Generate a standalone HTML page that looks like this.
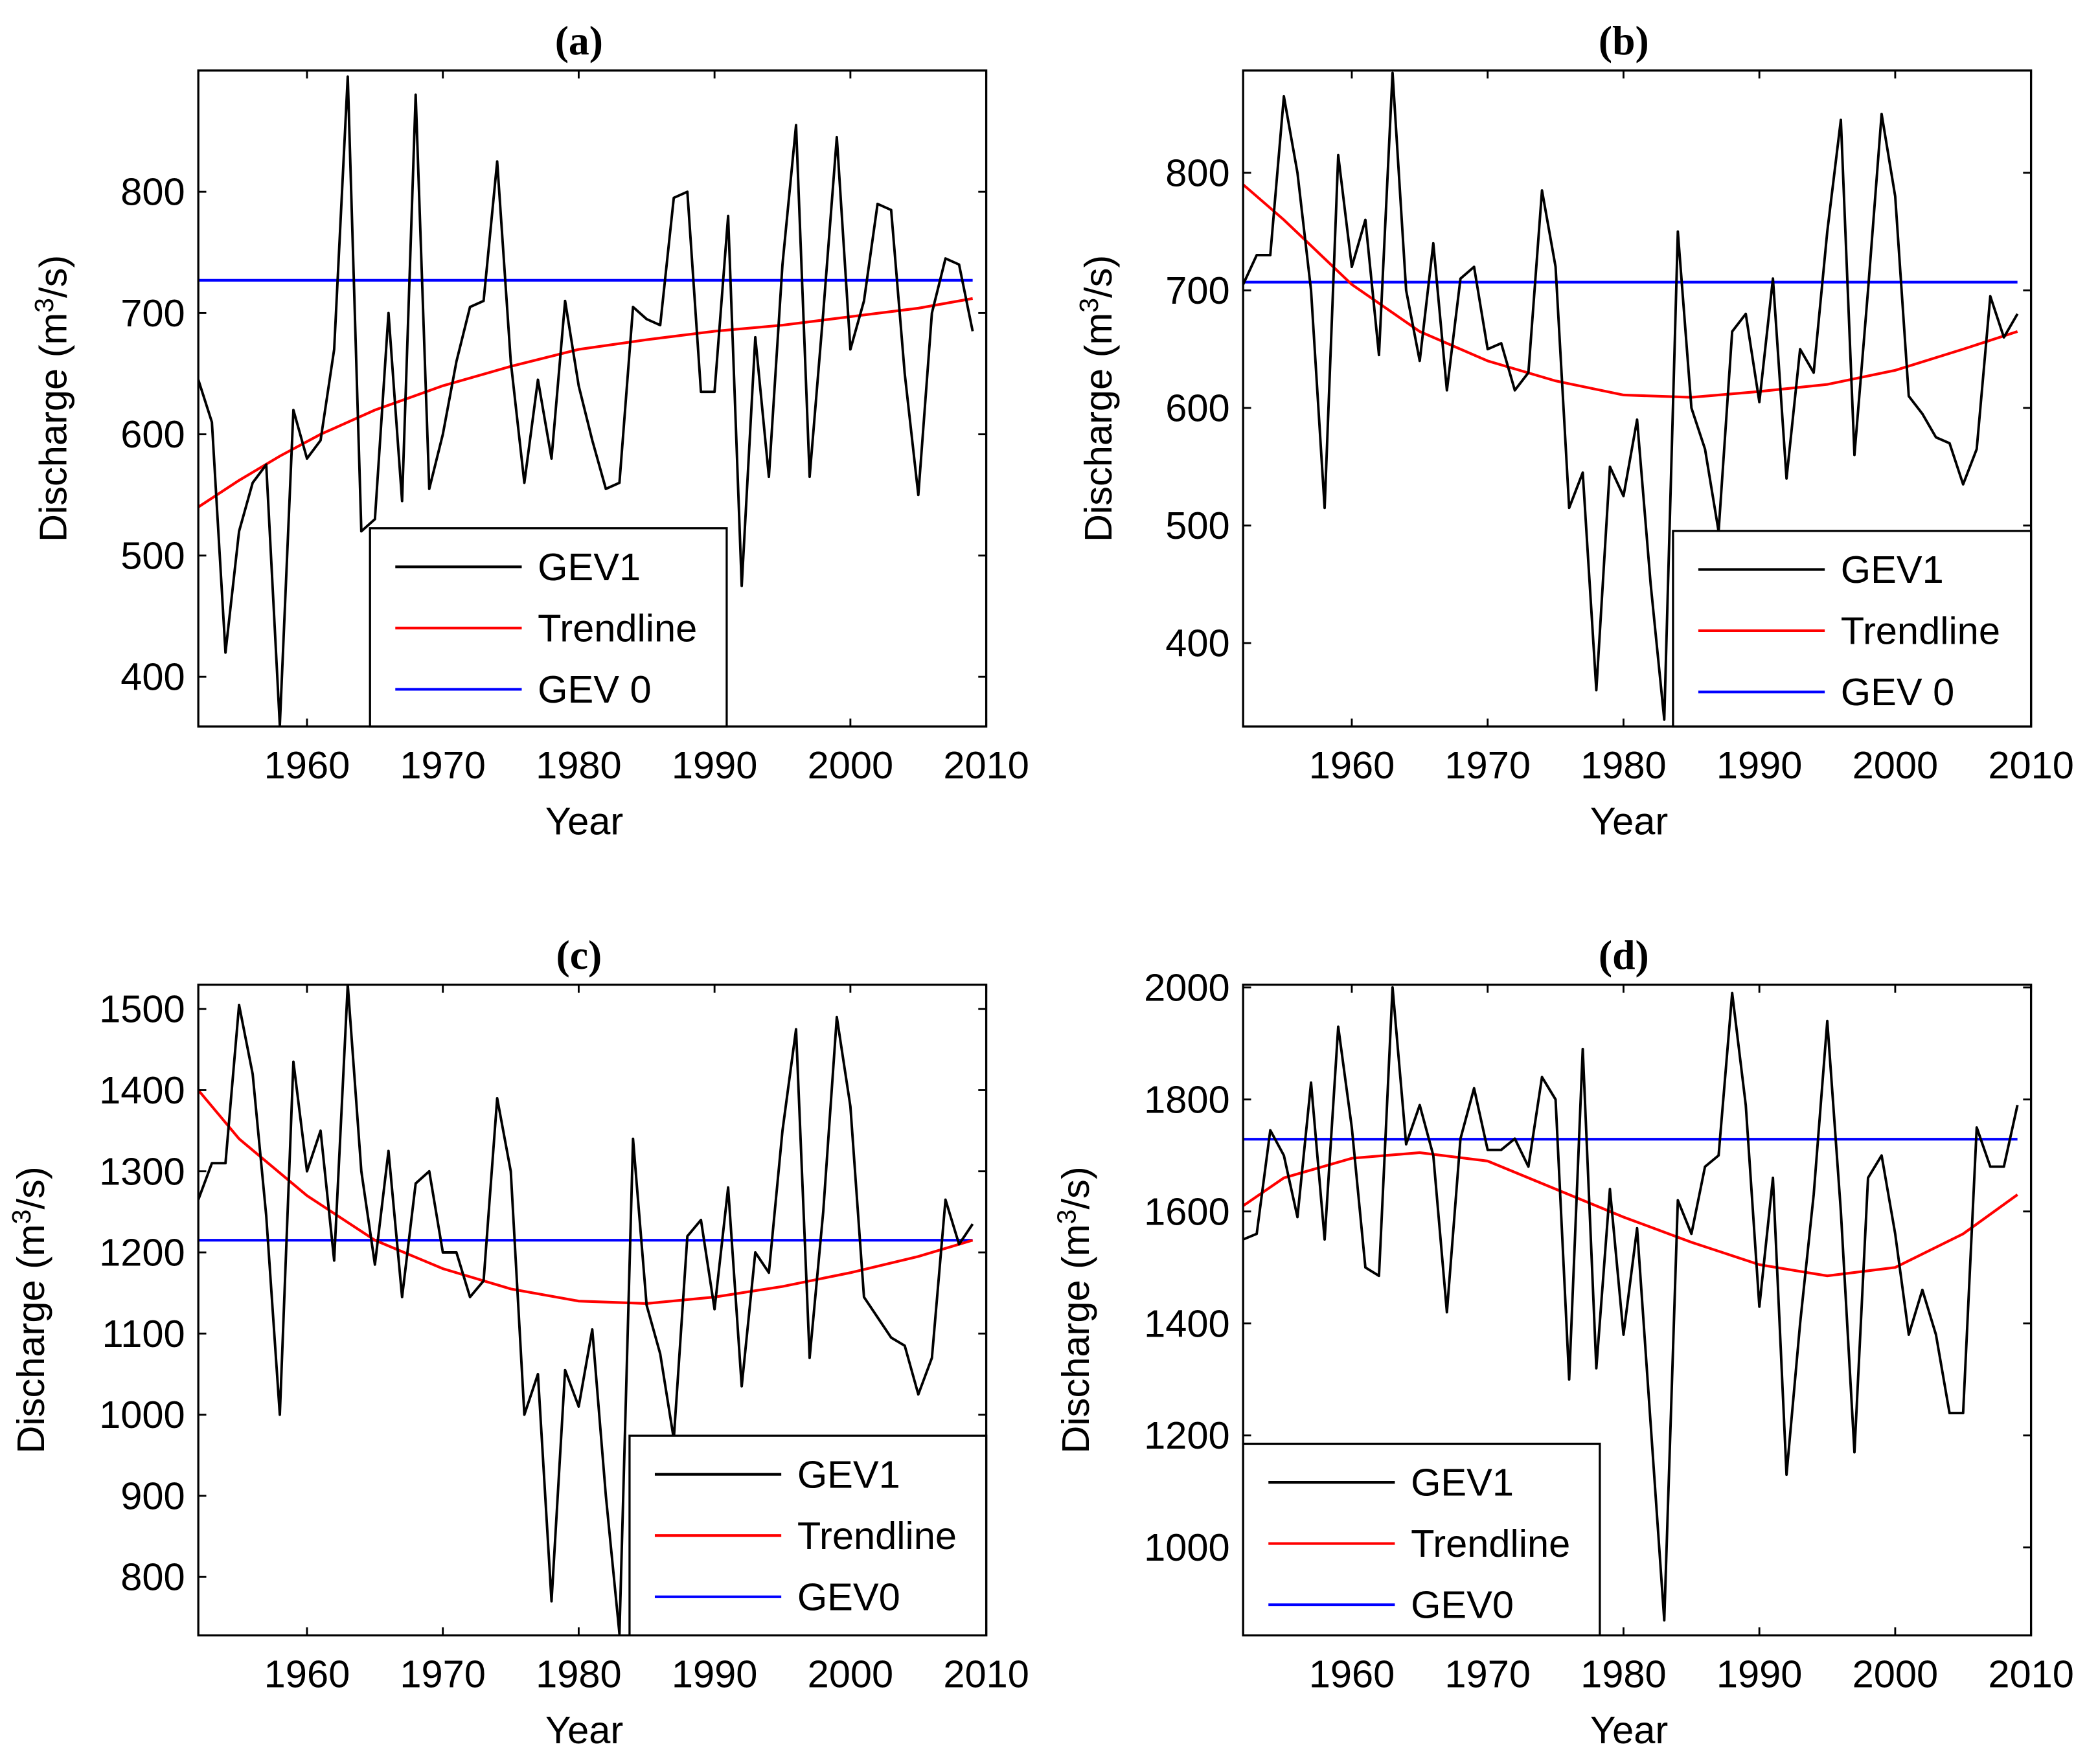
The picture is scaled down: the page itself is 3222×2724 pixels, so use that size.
<!DOCTYPE html>
<html><head><meta charset="utf-8"><style>
html,body{margin:0;padding:0;background:#fff}
svg{display:block}
text{font-family:"Liberation Sans",sans-serif;fill:#000}
</style></head><body>
<svg id="fig" width="3222" height="2724" viewBox="0 0 3222 2724" xmlns="http://www.w3.org/2000/svg">
<g id="root" transform="scale(2.0548)"></g>
</svg>
<script>
const years = [];
for (let y = 1952; y <= 2009; y++) years.push(y);
const xTicks = [1960,1970,1980,1990,2000,2010];

const gev1A = [645,610,420,520,560,575,360,620,580,595,670,895,520,530,700,545,880,555,600,660,705,710,825,660,560,645,580,710,640,595,555,560,705,695,690,795,800,635,635,780,475,680,565,740,855,565,700,845,670,710,790,785,650,550,700,745,740,685];
const trendYearsA = [1952,1955,1958,1961,1965,1970,1975,1980,1985,1990,1995,2000,2005,2009];
const trendA = [540,562,582,600,620,640,656,670,678,685,690,697,704,712];
const gev0A = 727;
const ticksA = [400,500,600,700,800];

const gev1B = [705,730,730,865,800,700,515,815,720,760,645,885,700,640,740,615,710,720,650,655,615,630,785,720,515,545,360,550,525,590,450,335,750,600,565,495,665,680,605,710,540,650,630,750,845,560,700,850,780,610,595,575,570,535,565,695,660,680];
const trendYearsB = [1952,1955,1960,1965,1970,1975,1980,1985,1990,1995,2000,2005,2009];
const trendB = [790,760,705,665,640,623,611,609,614,620,632,650,665];
const gev0B = 707;
const ticksB = [400,500,600,700,800];

const gev1C = [1265,1310,1310,1505,1420,1245,1000,1435,1300,1350,1190,1530,1300,1185,1325,1145,1285,1300,1200,1200,1145,1165,1390,1300,1000,1050,770,1055,1010,1105,900,730,1340,1135,1075,970,1220,1240,1130,1280,1035,1200,1175,1350,1475,1070,1250,1490,1380,1145,1120,1095,1085,1025,1070,1265,1210,1235];
const trendYearsC = [1952,1955,1960,1965,1970,1975,1980,1985,1990,1995,2000,2005,2009];
const trendC = [1400,1340,1270,1215,1180,1155,1140,1137,1145,1158,1175,1195,1215];
const gev0C = 1215;
const ticksC = [800,900,1000,1100,1200,1300,1400,1500];

const gev1D = [1550,1560,1745,1700,1590,1830,1550,1930,1750,1500,1485,2000,1720,1790,1700,1420,1730,1820,1710,1710,1730,1680,1840,1800,1300,1890,1320,1640,1380,1570,1220,870,1620,1560,1680,1700,1990,1790,1430,1660,1130,1400,1630,1940,1600,1170,1660,1700,1560,1380,1460,1380,1240,1240,1750,1680,1680,1790];
const trendYearsD = [1952,1955,1960,1965,1970,1975,1980,1985,1990,1995,2000,2005,2009];
const trendD = [1610,1660,1695,1705,1690,1640,1590,1545,1505,1485,1500,1560,1630];
const gev0D = 1729;
const ticksD = [1000,1200,1400,1600,1800,2000];

const NS = "http://www.w3.org/2000/svg";
const root = document.getElementById('root');
function el(tag, attrs, parent){
  const e = document.createElementNS(NS, tag);
  for (const k in attrs) e.setAttribute(k, attrs[k]);
  (parent||root).appendChild(e);
  return e;
}

const panels = [
  {id:'a', L:149,T:53,R:741,B:546, ymin:359,ymax:900, g1:gev1A, ty:trendYearsA, tr:trendA, g0:gev0A, ticks:ticksA,
   leg:{x:278,y:397,w:268,h:149}, g0label:'GEV 0', ylx:50},
  {id:'b', L:934,T:53,R:1526,B:546, ymin:329,ymax:887, g1:gev1B, ty:trendYearsB, tr:trendB, g0:gev0B, ticks:ticksB,
   leg:{x:1257,y:399,w:269,h:147}, g0label:'GEV 0', ylx:835},
  {id:'c', L:149,T:740,R:741,B:1229, ymin:728,ymax:1530, g1:gev1C, ty:trendYearsC, tr:trendC, g0:gev0C, ticks:ticksC,
   leg:{x:473,y:1079,w:268,h:150}, g0label:'GEV0', ylx:33},
  {id:'d', L:934,T:740,R:1526,B:1229, ymin:843,ymax:2005, g1:gev1D, ty:trendYearsD, tr:trendD, g0:gev0D, ticks:ticksD,
   leg:{x:934,y:1085,w:268,h:144}, g0label:'GEV0', ylx:818}
];

panels.forEach(p => {
  const g = el('g', {});
  
  
  const xs = v => p.L + (v - 1952) / (2010 - 1952) * (p.R - p.L);
  const ys = v => p.B - (v - p.ymin) / (p.ymax - p.ymin) * (p.B - p.T);
  const clipId = 'clip' + p.id;
  const cp = el('clipPath', {id: clipId}, g);
  el('rect', {x:p.L, y:p.T, width:p.R-p.L, height:p.B-p.T}, cp);
  const t = el('text', {x:(p.L+p.R)/2 - 10, y:p.T-12, 'text-anchor':'middle', 'font-size':31, style:'font-family:"Liberation Serif",serif;font-weight:bold'}, g);
  t.textContent = '(' + p.id + ')';
  
  
  const plot = el('g', {'clip-path':'url(#'+clipId+')'}, g);
  const l0 = el('line', {x1:p.L, x2:xs(2009), y1:ys(p.g0), y2:ys(p.g0), stroke:'#0000ff', 'stroke-width':2}, plot);
  
  
  const tp = el('polyline', {points:p.ty.map((y,i)=>xs(y)+','+ys(p.tr[i])).join(' '), fill:'none', stroke:'#ff0000', 'stroke-width':2}, plot);
  
  
  const gp = el('polyline', {points:years.map((y,i)=>xs(y)+','+ys(p.g1[i])).join(' '), fill:'none', stroke:'#000', 'stroke-width':1.9, 'stroke-linejoin':'round'}, plot);
  
  
  const box = el('rect', {x:p.L, y:p.T, width:p.R-p.L, height:p.B-p.T, fill:'none', stroke:'#000', 'stroke-width':1.6}, g);
  
  
  xTicks.forEach(v => {
    const x = xs(v);
    el('line', {x1:x,x2:x,y1:p.B,y2:p.B-6,stroke:'#000','stroke-width':1.4}, g);
    el('line', {x1:x,x2:x,y1:p.T,y2:p.T+6,stroke:'#000','stroke-width':1.4}, g);
    const tx = el('text', {x:x, y:p.B+39, 'text-anchor':'middle', 'font-size':29}, g);
    tx.textContent = v;
    
    
  });
  p.ticks.forEach(v => {
    const y = ys(v);
    el('line', {x1:p.L,x2:p.L+6,y1:y,y2:y,stroke:'#000','stroke-width':1.4}, g);
    el('line', {x1:p.R,x2:p.R-6,y1:y,y2:y,stroke:'#000','stroke-width':1.4}, g);
    const ty = el('text', {x:p.L-10, y:y+10, 'text-anchor':'end', 'font-size':29}, g);
    ty.textContent = v;
    
    
  });
  const xl = el('text', {x:(p.L+p.R)/2 - 6, y:p.B+81, 'text-anchor':'middle', 'font-size':29}, g);
  xl.textContent = 'Year';
  
  
  const cy = (p.T+p.B)/2;
  const yl = el('text', {x:p.ylx, y:cy, 'text-anchor':'middle', 'font-size':29, transform:'rotate(-90 '+p.ylx+' '+cy+')'}, g);
  yl.innerHTML = 'Discharge (m<tspan dy="-10" font-size="20">3</tspan><tspan dy="10">/s)</tspan>';
  
  
  const lg = el('g', {}, g);
  
  
  const L = p.leg;
  el('rect', {x:L.x, y:L.y, width:L.w, height:L.h, fill:'#fff', stroke:'#000', 'stroke-width':1.6}, lg);
  const items = [['GEV1','#000'],['Trendline','#ff0000'],[p.g0label,'#0000ff']];
  items.forEach((it, i) => {
    const yy = L.y + 29 + i*46;
    el('line', {x1:L.x+19, x2:L.x+114, y1:yy, y2:yy, stroke:it[1], 'stroke-width':2}, lg);
    const lt = el('text', {x:L.x+126, y:yy+10, 'font-size':29}, lg);
    lt.textContent = it[0];
    
    
  });
});
</script>
</body></html>
